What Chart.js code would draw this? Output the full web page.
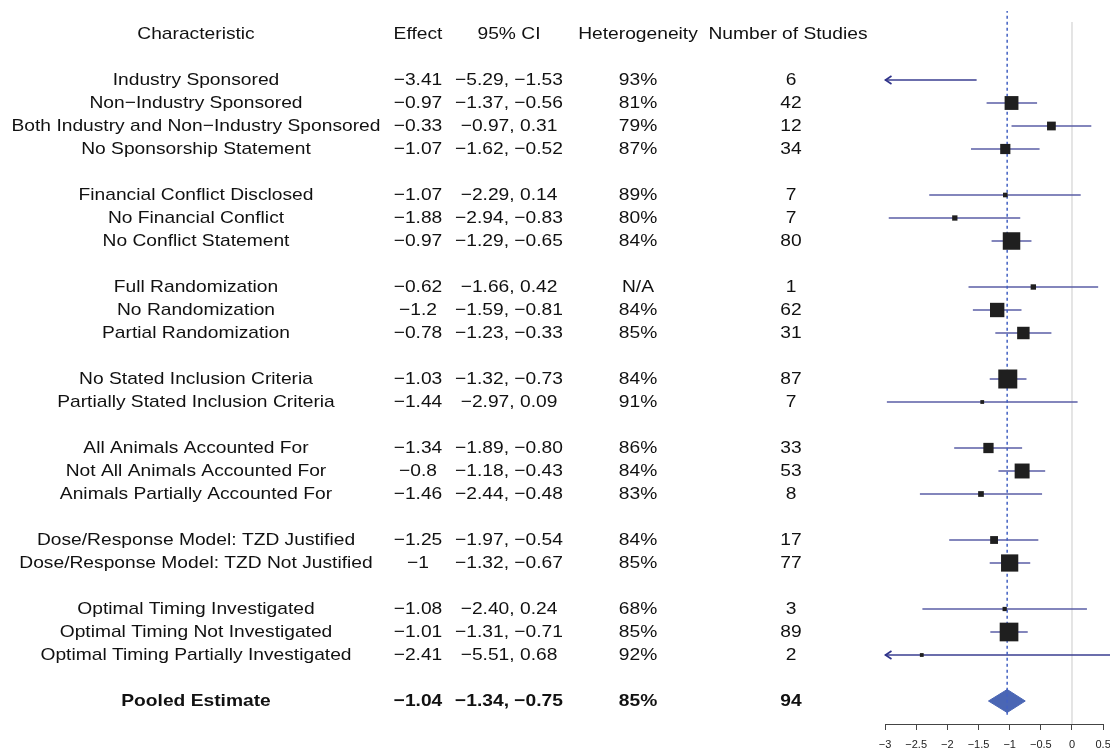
<!DOCTYPE html>
<html><head><meta charset="utf-8">
<script src="https://cdn.jsdelivr.net/npm/chart.js@4.4.1/dist/chart.umd.min.js"></script>
<style>html,body{margin:0;padding:0;background:#fff}</style>
</head><body>
<canvas id="c" width="1110" height="750" style="display:block"></canvas>
<script>
// ---------- DATA ----------
const headers = ['Characteristic', 'Effect', '95% CI', 'Heterogeneity', 'Number of Studies'];

const characteristics = [
  'Industry Sponsored', 'Non\u2212Industry Sponsored', 'Both Industry and Non\u2212Industry Sponsored', 'No Sponsorship Statement',
  'Financial Conflict Disclosed', 'No Financial Conflict', 'No Conflict Statement',
  'Full Randomization', 'No Randomization', 'Partial Randomization',
  'No Stated Inclusion Criteria', 'Partially Stated Inclusion Criteria',
  'All Animals Accounted For', 'Not All Animals Accounted For', 'Animals Partially Accounted For',
  'Dose/Response Model: TZD Justified', 'Dose/Response Model: TZD Not Justified',
  'Optimal Timing Investigated', 'Optimal Timing Not Investigated', 'Optimal Timing Partially Investigated'
];
const groups = [
  'sponsor', 'sponsor', 'sponsor', 'sponsor',
  'conflict', 'conflict', 'conflict',
  'random', 'random', 'random',
  'inclusion', 'inclusion',
  'animals', 'animals', 'animals',
  'dose', 'dose',
  'timing', 'timing', 'timing'
];
const effects = [-3.41, -0.97, -0.33, -1.07, -1.07, -1.88, -0.97, -0.62, -1.2, -0.78,
                 -1.03, -1.44, -1.34, -0.8, -1.46, -1.25, -1, -1.08, -1.01, -2.41];
const ciLower = [-5.29, -1.37, -0.97, -1.62, -2.29, -2.94, -1.29, -1.66, -1.59, -1.23,
                 -1.32, -2.97, -1.89, -1.18, -2.44, -1.97, -1.32, -2.40, -1.31, -5.51];
const ciUpper = [-1.53, -0.56, 0.31, -0.52, 0.14, -0.83, -0.65, 0.42, -0.81, -0.33,
                 -0.73, 0.09, -0.80, -0.43, -0.48, -0.54, -0.67, 0.24, -0.71, 0.68];
const heterogeneity = [93, 81, 79, 87, 89, 80, 84, null, 84, 85, 84, 91, 86, 84, 83, 84, 85, 68, 85, 92];
const numStudies = [6, 42, 12, 34, 7, 7, 80, 1, 62, 31, 87, 7, 33, 53, 8, 17, 77, 3, 89, 2];

const pooledLabel = 'Pooled Estimate';
const pooledEffect = -1.04;
const pooledLower = -1.34;
const pooledUpper = -0.75;
const pooledHeterogeneity = 85;
const pooledStudies = 94;

const xTicks = [-3, -2.5, -2, -1.5, -1, -0.5, 0, 0.5];

// ---------- HELPERS ----------
const minus = s => String(s).replace(/-/g, '\u2212');
const fmtEffect = v => minus(v);
const fmtCI = (lo, hi) => minus(lo.toFixed(2)) + ', ' + minus(hi.toFixed(2));
const fmtHet = v => v == null ? 'N/A' : v + '%';

// row positions (blank line between groups)
const rowPos = [];
let r = 0;
for (let i = 0; i < characteristics.length; i++) {
  if (i > 0 && groups[i] !== groups[i - 1]) r++;
  rowPos.push(r);
  r++;
}
const pooledPos = r + 1;
const headerPos = -2;
const X_MIN = -3, X_MAX = 0.61;

// box size proportional to precision (1 / CI width), with a floor
const widths = ciLower.map((lo, i) => ciUpper[i] - lo);
const minW = Math.min(...widths);
const MAX_BOX = 19;
const boxSide = widths.map(w => MAX_BOX * Math.max(0.2, minW / w));

// ---------- DATASETS ----------
const COL_CI = '#5a5ea6';
const COL_BOX = '#1f1f1f';
const datasets = [];

datasets.push({
  type: 'scatter', label: 'estimates', order: 0,
  data: effects.map((e, i) => ({ x: e, y: rowPos[i] })),
  pointStyle: 'rect',
  pointRadius: effects.map((e, i) => (e < X_MIN ? 0 : boxSide[i] / Math.SQRT2)),
  pointBackgroundColor: COL_BOX, pointBorderColor: COL_BOX, pointBorderWidth: 0
});

datasets.push({
  type: 'line', label: 'pooled ref', order: 1,
  data: [{ x: pooledEffect, y: headerPos - 1.05 }, { x: pooledEffect, y: pooledPos + 0.6 }],
  borderColor: '#4361c2', borderWidth: 1.5, borderDash: [3, 3], pointRadius: 0, fill: false
});

datasets.push({
  type: 'line', label: 'pooled', order: 2,
  data: [
    { x: pooledLower, y: pooledPos }, { x: pooledEffect, y: pooledPos - 0.5 },
    { x: pooledUpper, y: pooledPos }, { x: pooledEffect, y: pooledPos + 0.5 },
    { x: pooledLower, y: pooledPos }
  ],
  borderColor: '#4a66b4', borderWidth: 1, backgroundColor: '#4a66b4',
  fill: 'shape', pointRadius: 0, tension: 0
});

ciLower.forEach((lo, i) => {
  datasets.push({
    type: 'line', label: 'ci' + i, order: 3,
    data: [{ x: lo, y: rowPos[i] }, { x: ciUpper[i], y: rowPos[i] }],
    borderColor: lo < X_MIN ? '#3a3e90' : COL_CI, borderWidth: 1.7, pointRadius: 0, fill: false
  });
});

datasets.push({
  type: 'line', label: 'zero', order: 4,
  data: [{ x: 0, y: headerPos - 0.52 }, { x: 0, y: pooledPos + 1 }],
  borderColor: '#dcdcdc', borderWidth: 1.5, pointRadius: 0, fill: false
});

// ---------- PLUGIN: table text, arrows, axis line, tick labels ----------
const STRETCH = 1.13;
function stretchText(ctx, t, cx, y) {
  ctx.save();
  ctx.translate(cx, y);
  ctx.scale(STRETCH, 1);
  ctx.fillText(t, 0, 0);
  ctx.restore();
}
const tablePlugin = {
  id: 'table',
  afterDraw(chart) {
    const ctx = chart.ctx, xs = chart.scales.x, ys = chart.scales.y;
    ctx.save();
    // axis line
    const by = Math.round(chart.chartArea.bottom) + 0.5;
    ctx.strokeStyle = '#444'; ctx.lineWidth = 1;
    ctx.beginPath();
    ctx.moveTo(xs.getPixelForValue(xTicks[0]), by);
    ctx.lineTo(xs.getPixelForValue(xTicks[xTicks.length - 1]), by);
    ctx.stroke();

    // tick labels (drawn here so the clipped "0.5" does not shrink the plot)
    ctx.fillStyle = '#222';
    ctx.textAlign = 'center'; ctx.textBaseline = 'middle';
    ctx.font = '11px "Liberation Sans", Arial, sans-serif';
    xTicks.forEach(v => ctx.fillText(minus(v), xs.getPixelForValue(v), chart.chartArea.bottom + 21));

    // arrows for truncated CIs
    ctx.strokeStyle = '#2f338a'; ctx.lineWidth = 1.7;
    ciLower.forEach((lo, i) => {
      if (lo < X_MIN) {
        const x = xs.getPixelForValue(X_MIN) + 0.5, y = ys.getPixelForValue(rowPos[i]);
        ctx.beginPath();
        ctx.moveTo(x + 6, y - 4); ctx.lineTo(x, y); ctx.lineTo(x + 6, y + 4);
        ctx.stroke();
      }
    });

    // text table
    const cols = [196, 418, 509, 638, 791];
    const dy = 0.5;
    ctx.fillStyle = '#111';
    ctx.font = '17px "Liberation Sans", Arial, sans-serif';
    const hy = ys.getPixelForValue(headerPos) + dy;
    headers.forEach((h, j) => stretchText(ctx, h, j === 4 ? 788 : cols[j], hy));
    characteristics.forEach((c, i) => {
      const y = ys.getPixelForValue(rowPos[i]) + dy;
      stretchText(ctx, c, cols[0], y);
      stretchText(ctx, fmtEffect(effects[i]), cols[1], y);
      stretchText(ctx, fmtCI(ciLower[i], ciUpper[i]), cols[2], y);
      stretchText(ctx, fmtHet(heterogeneity[i]), cols[3], y);
      stretchText(ctx, String(numStudies[i]), cols[4], y);
    });
    ctx.font = 'bold 17px "Liberation Sans", Arial, sans-serif';
    const py = ys.getPixelForValue(pooledPos) + dy;
    stretchText(ctx, pooledLabel, cols[0], py);
    stretchText(ctx, fmtEffect(pooledEffect.toFixed(2)), cols[1], py);
    stretchText(ctx, fmtCI(pooledLower, pooledUpper), cols[2], py);
    stretchText(ctx, fmtHet(pooledHeterogeneity), cols[3], py);
    stretchText(ctx, String(pooledStudies), cols[4], py);
    ctx.restore();
  }
};

new Chart(document.getElementById('c'), {
  data: { datasets },
  options: {
    responsive: false, animation: false,
    layout: { autoPadding: false, padding: { left: 885, right: 0, top: 11, bottom: 0 } },
    plugins: { legend: { display: false }, tooltip: { enabled: false } },
    scales: {
      x: {
        type: 'linear', min: X_MIN, max: X_MAX,
        afterBuildTicks: s => { s.ticks = xTicks.map(v => ({ value: v })); },
        afterFit: s => { s.height = 26; s.paddingLeft = 0; s.paddingRight = 0; },
        ticks: { autoSkip: false, maxRotation: 0, padding: 0, callback: () => '' },
        grid: { drawOnChartArea: false, drawTicks: true, tickLength: 6, color: '#444', tickColor: '#444' },
        border: { display: false }
      },
      y: { type: 'linear', display: false, reverse: true, min: headerPos - 1, max: pooledPos + 1 }
    }
  },
  plugins: [tablePlugin]
});
</script>
</body></html>
